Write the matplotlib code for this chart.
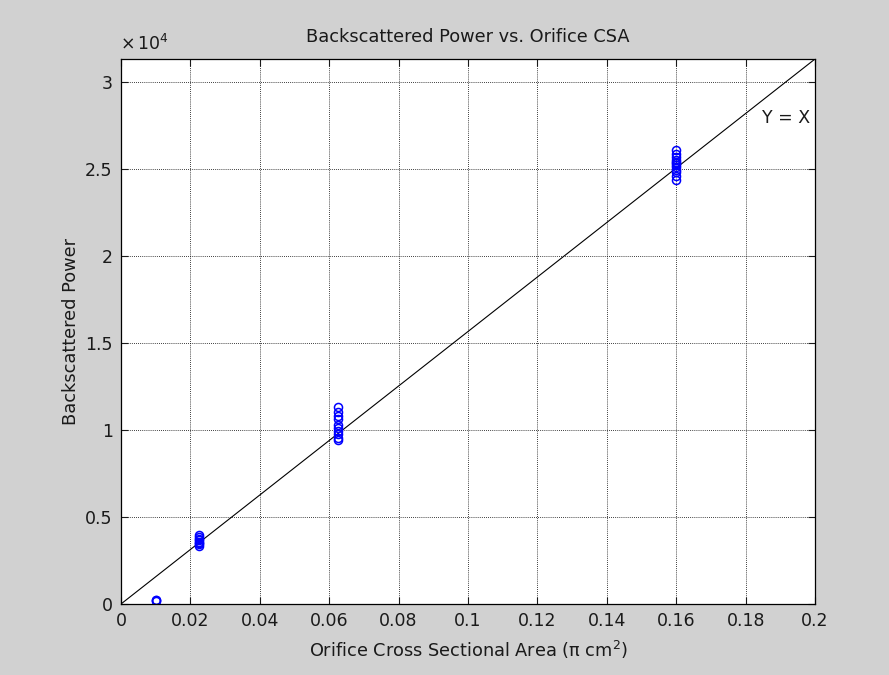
import matplotlib
matplotlib.use("Agg")
import matplotlib.pyplot as plt

plt.rcParams['font.family'] = ['DejaVu Sans']
plt.rcParams['mathtext.default'] = 'regular'

# Orifice cross sectional areas (pi cm^2) and measured backscattered power
area_001 = [0.01, 0.01, 0.01]
power_001 = [190, 210, 240]

area_0225 = [0.0225] * 8
power_0225 = [3950, 3850, 3750, 3650, 3550, 3480, 3420, 3350]

area_0625 = [0.0625] * 10
power_0625 = [11300, 11050, 10800, 10600, 10300, 10100, 9950, 9750, 9550, 9400]

area_016 = [0.16] * 12
power_016 = [26050, 25850, 25650, 25500, 25400, 25300, 25200, 25100, 24950, 24800, 24600, 24350]

# Reference line Y = X
ref_x = [0.0, 0.2]
ref_y = [0.0, 31300]

x_ticks = [0, 0.02, 0.04, 0.06, 0.08, 0.1, 0.12, 0.14, 0.16, 0.18, 0.2]
x_tick_labels = ['0', '0.02', '0.04', '0.06', '0.08', '0.1', '0.12', '0.14', '0.16', '0.18', '0.2']
y_ticks = [0, 5000, 10000, 15000, 20000, 25000, 30000]
y_tick_labels = ['0', '0.5', '1', '1.5', '2', '2.5', '3']

fig = plt.figure(figsize=(8.89, 6.75), dpi=100, facecolor='#d1d1d1')
ax = fig.add_axes([0.1361, 0.1052, 0.7807, 0.8074])
ax.set_facecolor('white')

ax.plot(ref_x, ref_y, color='black', linewidth=0.8)
for xs, ys in [(area_001, power_001), (area_0225, power_0225),
               (area_0625, power_0625), (area_016, power_016)]:
    ax.plot(xs, ys, linestyle='none', marker='o', markersize=5.8,
            markerfacecolor='none', markeredgecolor='#0000ff', markeredgewidth=1.1)

ax.set_xlim(0, 0.2)
ax.set_ylim(0, 31300)
ax.set_xticks(x_ticks)
ax.set_xticklabels(x_tick_labels)
ax.set_yticks(y_ticks)
ax.set_yticklabels(y_tick_labels)

ax.grid(True, color='black', linestyle=(0, (1, 1.5)), linewidth=0.6)
ax.tick_params(direction='in', length=5, width=0.8, top=True, right=True,
               labelsize=12.5, pad=6, colors='#1a1a1a')
for s in ax.spines.values():
    s.set_linewidth(0.9)

ax.set_title('Backscattered Power vs. Orifice CSA', fontsize=12.8, pad=12, color='#1a1a1a')
ax.set_xlabel(r'Orifice Cross Sectional Area ($\pi$ cm$^2$)', fontsize=12.8, labelpad=6,
              color='#1a1a1a')
ax.set_ylabel('Backscattered Power', fontsize=12.8, labelpad=3.5, color='#1a1a1a')

ax.text(-0.002, 1.01, r'$\times\,10^{4}$', transform=ax.transAxes, fontsize=12.5,
        ha='left', va='bottom', color='#1a1a1a')
ax.text(0.1985, 27900, 'Y = X', fontsize=12.5, ha='right', va='center', color='#1a1a1a')

fig.savefig('out.png', dpi=100, facecolor=fig.get_facecolor())
